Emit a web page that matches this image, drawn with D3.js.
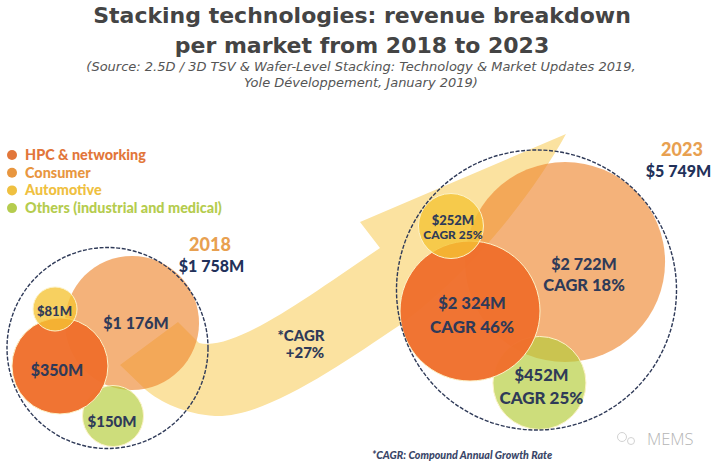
<!DOCTYPE html>
<html>
<head>
<meta charset="utf-8">
<script src="https://cdn.jsdelivr.net/npm/d3@7"></script>
<style>
html, body { margin: 0; padding: 0; background: #fff; }
svg { display: block; }
.val { font-family: Lato, sans-serif; font-weight: 900; fill: #2f3a58; text-anchor: middle; }
</style>
</head>
<body>
<div id="chart"></div>
<script>
// data, in drawing order (back to front)
var markets = ["Consumer", "Others", "HPC & networking", "Automotive"];
var legendLabels = ["HPC & networking", "Consumer", "Automotive", "Others (industrial and medical)"];
var revenue2018 = [1176, 150, 350, 81];
var revenue2023 = [2722, 452, 2324, 252];
var cagr2023 = [18, 25, 46, 25];
var total2018 = 1758, total2023 = 5749;
var marketCagr = 27;

// bubbles in the source are not to scale, so the radius goes through a piecewise scale
var rValues = [81, 150, 252, 350, 452, 1176, 1758, 2324, 2722, 5749];
var rPixels = [22, 30.5, 32.5, 48, 46.5, 67, 100.5, 70, 100, 140];

// layout: bubble centre inside the dashed circle, -1..1 of its radius
var place2018 = [[0.244, -0.249], [0.055, 0.677], [-0.473, 0.179], [-0.522, -0.388]];
var place2023 = [[0.204, -0.2], [0.021, 0.664], [-0.475, 0.15], [-0.611, -0.457]];
// label offset from bubble centre: dx, dy, dy of the CAGR line
var label2018 = [[4, 6], [-1, 11], [-3, 10], [-0.5, 7]];
var label2023 = [[19, 8, 29], [2, -2, 21], [2, -2, 22], [2, -1, 13]];
var valueSize2018 = [16, 15, 16, 13];
var valueSize2023 = [16, 16.5, 16.5, 13];
var cagrSize = [16.5, 17, 17, 12];

var fills = ["rgb(238,134,47)", "rgb(182,205,60)", "#f0702c", "rgb(245,195,51)"];
var fillOpacity = [0.64, 0.68, 0.97, 0.78];
var legendColors = ["#e2763a", "#e8963f", "#efc040", "#b5cc4e"];

var width = 715, height = 466;

var svg = d3.select("#chart").append("svg")
    .attr("width", width)
    .attr("height", height);

var rScale = d3.scaleLinear().domain(rValues).range(rPixels);

function fmt(v) {
    // "$1 176M" style, blank as thousands separator
    return "$" + d3.format(",")(v).replace(",", " ") + "M";
}

// title
var titleLines = ["Stacking technologies: revenue breakdown", "per market from 2018 to 2023"];
svg.selectAll(".title").data(titleLines).enter().append("text")
    .attr("class", "title")
    .attr("x", 362)
    .attr("y", function (d, i) { return 23 + i * 29.5; })
    .attr("text-anchor", "middle")
    .attr("fill", "#444")
    .style("font", "bold 22px 'DejaVu Sans'")
    .text(function (d) { return d; });

var sourceLines = ["(Source: 2.5D / 3D TSV & Wafer-Level Stacking: Technology & Market Updates 2019,", "Yole Développement, January 2019)"];
svg.selectAll(".source").data(sourceLines).enter().append("text")
    .attr("class", "source")
    .attr("x", 361)
    .attr("y", function (d, i) { return 71 + i * 16; })
    .attr("text-anchor", "middle")
    .attr("fill", "#555")
    .style("font", "italic 13px 'DejaVu Sans'")
    .text(function (d) { return d; });

// legend
var legend = svg.selectAll(".legend").data(legendLabels).enter().append("g")
    .attr("class", "legend")
    .attr("transform", function (d, i) { return "translate(12," + (155 + i * 17.7) + ")"; });
legend.append("circle").attr("r", 5).attr("fill", function (d, i) { return legendColors[i]; });
legend.append("text")
    .attr("x", 13)
    .attr("y", 5)
    .attr("fill", function (d, i) { return legendColors[i]; })
    .style("font", "900 14.4px Lato")
    .text(function (d) { return d; });

// growth arrow behind the bubbles
var arrow = d3.path();
arrow.moveTo(178, 322);
arrow.lineTo(199, 343);
arrow.bezierCurveTo(235, 352, 310, 295, 380, 248);
arrow.lineTo(360, 222);
arrow.lineTo(566, 134);
arrow.bezierCurveTo(535, 190, 475, 270, 400, 325);
arrow.bezierCurveTo(340, 365, 265, 418, 215, 416);
arrow.bezierCurveTo(185, 414, 160, 402, 146, 390);
arrow.lineTo(120, 365);
arrow.closePath();
svg.append("path").attr("d", arrow.toString()).attr("fill", "#fbe2a0");

function drawYear(values, total, place, labels, sizes, cx, cy, withCagr) {
    var R = rScale(total);
    var x = d3.scaleLinear().domain([-1, 1]).range([cx - R, cx + R]);
    var y = d3.scaleLinear().domain([-1, 1]).range([cy - R, cy + R]);
    var g = svg.append("g").attr("class", "year");

    g.selectAll(".bubble").data(values).enter().append("circle")
        .attr("class", "bubble")
        .attr("cx", function (d, i) { return x(place[i][0]); })
        .attr("cy", function (d, i) { return y(place[i][1]); })
        .attr("r", function (d) { return rScale(d); })
        .attr("fill", function (d, i) { return fills[i]; })
        .attr("fill-opacity", function (d, i) { return fillOpacity[i]; })
        .attr("stroke", function (d, i) { return i == 0 ? "none" : "#fdf3c8"; })
        .attr("stroke-width", 1);

    g.append("circle")
        .attr("cx", cx)
        .attr("cy", cy)
        .attr("r", R)
        .attr("fill", "none")
        .attr("stroke", "#2f3a58")
        .attr("stroke-width", 1.4)
        .attr("stroke-dasharray", "4 1.6");

    g.selectAll(".val").data(values).enter().append("text")
        .attr("class", "val")
        .attr("x", function (d, i) { return x(place[i][0]) + labels[i][0]; })
        .attr("y", function (d, i) { return y(place[i][1]) + labels[i][1]; })
        .style("font-size", function (d, i) { return sizes[i] + "px"; })
        .text(fmt);

    if (withCagr) {
        g.selectAll(".cagr").data(values).enter().append("text")
            .attr("class", "val cagr")
            .attr("x", function (d, i) { return x(place[i][0]) + labels[i][0]; })
            .attr("y", function (d, i) { return y(place[i][1]) + labels[i][2]; })
            .style("font-size", function (d, i) { return cagrSize[i] + "px"; })
            .text(function (d, i) { return "CAGR " + cagr2023[i] + "%"; });
    }
}

drawYear(revenue2018, total2018, place2018, label2018, valueSize2018, 107.5, 348, false);
drawYear(revenue2023, total2023, place2023, label2023, valueSize2023, 536.5, 290, true);

// year headings
var years = [["2018", total2018, 210, 251, 211.5, 272], ["2023", total2023, 682, 156, 678.5, 177]];
years.forEach(function (d) {
    svg.append("text").attr("x", d[2]).attr("y", d[3])
        .attr("text-anchor", "middle").attr("fill", "#e8a050")
        .style("font", "900 18px Lato").text(d[0]);
    svg.append("text").attr("class", "val").attr("x", d[4]).attr("y", d[5])
        .style("fill", "#22315a").style("font-size", "16px").text(fmt(d[1]));
});

svg.append("text").attr("class", "val").attr("x", 301).attr("y", 341)
    .style("font-size", "15px").text("*CAGR");
svg.append("text").attr("class", "val").attr("x", 305).attr("y", 358)
    .style("font-size", "15px").text("+" + marketCagr + "%");

svg.append("text")
    .attr("x", 372).attr("y", 459)
    .attr("fill", "#3a4668")
    .style("font", "italic 900 10.7px Lato")
    .text("*CAGR: Compound Annual Growth Rate");

// watermark
var mark = svg.append("g").attr("fill", "none").attr("stroke", "#d2d2d2").attr("stroke-width", 1);
mark.append("circle").attr("cx", 622).attr("cy", 437).attr("r", 4.5);
mark.append("circle").attr("cx", 631).attr("cy", 441).attr("r", 3.5);
svg.append("text")
    .attr("x", 647).attr("y", 445)
    .attr("fill", "#b5b5b5")
    .style("font", "300 16.5px 'Open Sans'")
    .text("MEMS");
</script>
</body>
</html>
